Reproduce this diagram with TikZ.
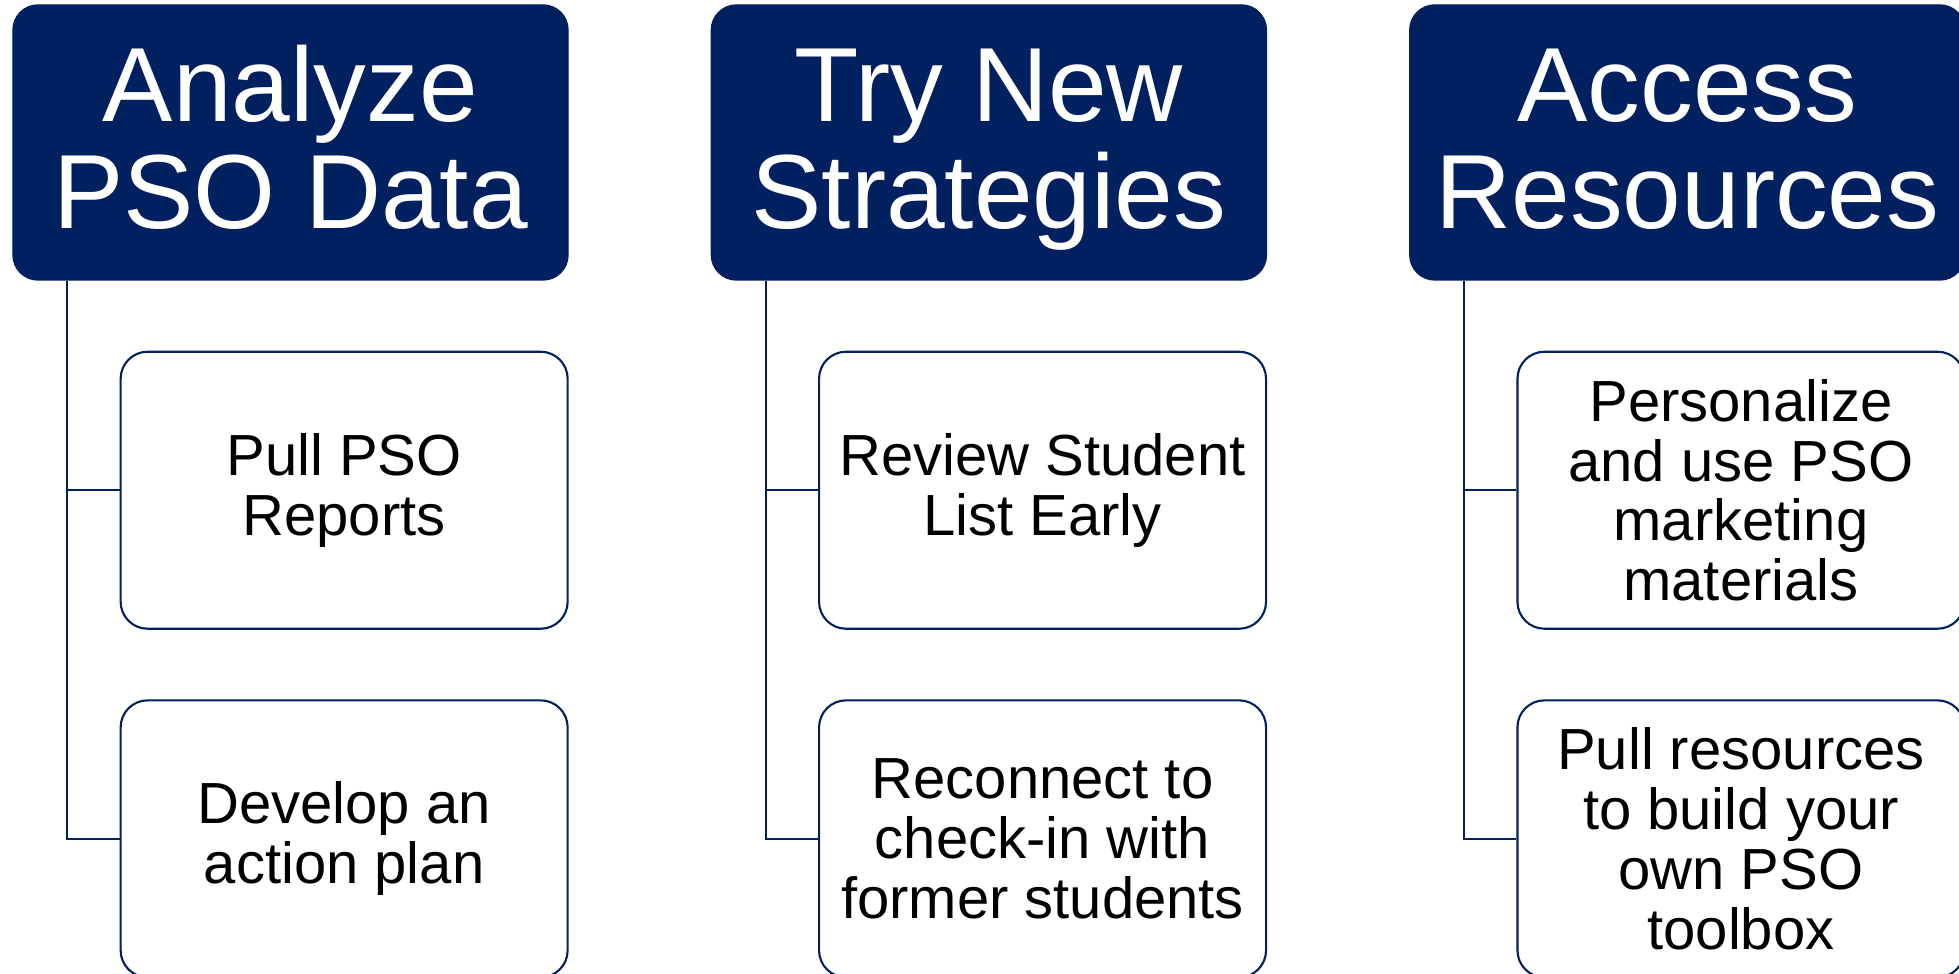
\documentclass[tikz,border=0pt]{standalone}
\usepackage{fontspec}
\setmainfont{Liberation Sans}
\usetikzlibrary{positioning}
\definecolor{psoblue}{HTML}{002060}

\begin{document}
\begin{tikzpicture}[
    head/.style={fill=psoblue, draw=psoblue, rounded corners=2.5mm, text=white,
      minimum width=5.55cm, minimum height=2.75cm, align=center,
      text height=1.83cm, text depth=.11cm,
      font=\fontsize{30}{30.5}\selectfont},
    item/.style={draw=psoblue, line width=.6pt, fill=white, rounded corners=2.7mm,
      minimum width=4.47cm, minimum height=2.77cm, align=center, inner sep=1pt,
      font=\fontsize{16.5}{17}\selectfont},
    link/.style={draw=psoblue, line width=.6pt}]
  \useasboundingbox (0,0) rectangle (19.59,9.74);

  % top row
  \node[head] (h1) at (2.905,8.315) {Analyze\\PSO Data};
  \node[head, right=1.42cm of h1] (h2) {Try New\\Strategies};
  \node[head, right=1.42cm of h2] (h3) {Access\\Resources};

  % steps under each heading
  \node[item, below=7mm of h1.south east, anchor=north east] (c11) {Pull PSO\\Reports};
  \node[item, below=6.95mm of c11] (c12) {Develop an\\action plan};
  \node[item, below=7mm of h2.south east, anchor=north east] (c21) {Review Student\\List Early};
  \node[item, below=6.95mm of c21] (c22) {Reconnect to\\check-in with\\former students};
  \node[item, below=7mm of h3.south east, anchor=north east] (c31) {Personalize\\and use PSO\\marketing\\materials};
  \node[item, below=6.95mm of c31] (c32) {Pull resources\\to build your\\own PSO\\toolbox};

  \foreach \c in {1,2,3}
    \foreach \k in {1,2}
      \draw[link] ([xshift=5.5mm]h\c.south west) |- (c\c\k.west);
\end{tikzpicture}
\end{document}
